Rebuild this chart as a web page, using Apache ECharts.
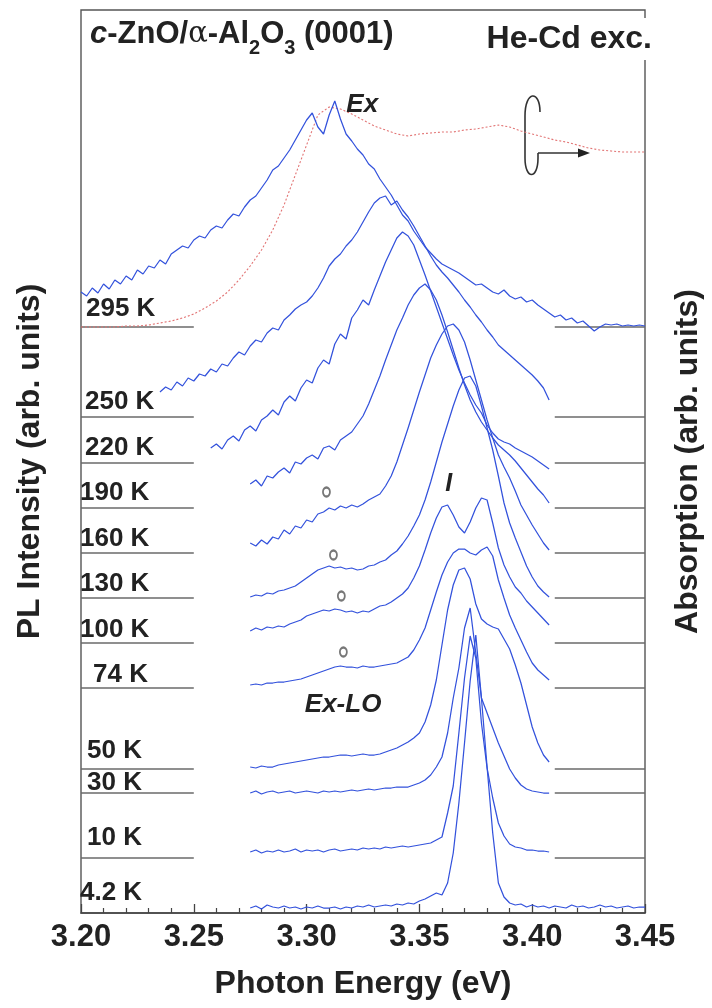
<!DOCTYPE html>
<html><head><meta charset="utf-8">
<script src="https://cdn.jsdelivr.net/npm/echarts@6/dist/echarts.min.js"></script>
<style>html,body{margin:0;padding:0;background:#fff}#c{width:712px;height:1008px}</style>
</head><body><div id="c"></div>
<script>
// ---------- data ----------
const STEP = 0.0025; // eV between read points
const tempLabels = ['295 K','250 K','220 K','190 K','160 K','130 K','100 K','74 K','50 K','30 K','10 K','4.2 K'];
// vertical offsets of each spectrum (arb. units, same scale as intensities)
const offsets = [586, 496, 450, 405, 360, 315, 270, 225, 144, 120, 55, 0];
const startEnergy = [3.200, 3.235, 3.2575, 3.275, 3.275, 3.275, 3.275, 3.275, 3.275, 3.275, 3.275, 3.275];

const pl295 = [35,31,39,34,43,38,47,43,51,47,57,53,61,59,67,63,73,77,81,79,87,91,89,97,101,99,107,113,111,120,127,131,139,147,157,161,169,177,187,197,207,214,200,193,212,226,208,193,186,178,172,163,158,148,140,132,122,112,106,96,88,80,74,68,63,60,57,54,50,46,42,43,39,35,33,37,31,28,30,25,27,22,18,14,10,12,7,9,4,6,1,-4,0,3,2,3,1,2,1,2,1];
const pl250 = [25,30,27,35,31,39,36,43,41,48,45,53,51,59,65,62,71,77,75,84,89,87,97,102,108,112,115,121,129,139,151,158,163,171,177,185,195,205,214,219,221,212,216,207,200,191,181,171,161,152,145,139,132,125,117,110,102,95,87,80,72,67,62,57,52,47,42,36,29,17];
const pl220 = [15,19,14,23,27,22,33,37,32,43,47,53,48,61,67,62,75,83,80,95,103,99,119,129,124,145,153,163,158,173,187,201,213,225,231,227,218,203,188,172,156,140,124,108,93,80,68,58,50,38,30,24,21,19,15,12,9,6,2,-2,-6];
const pl190 = [24,28,22,32,30,36,40,35,46,44,50,53,49,60,62,58,68,72,76,84,92,104,118,132,148,163,178,190,203,213,220,224,218,208,193,176,158,140,123,108,96,86,78,70,63,58,53,47,40,33,26,19,13,5];
const pl160 = [10,7,13,9,16,14,23,19,27,25,33,31,39,41,45,43,47,45,48,46,49,53,56,59,67,77,91,108,125,143,161,178,195,208,219,227,229,223,211,193,173,153,133,115,98,86,75,62,48,38,28,19,10,3];
const pl130 = [1,3,2,5,4,7,8,10,12,16,20,24,28,30,32,30,31,29,30,28,29,32,33,36,38,43,47,54,62,72,83,98,116,136,156,174,192,208,220,222,212,192,170,148,122,95,75,60,46,32,21,12,6,1];
const pl100 = [12,15,13,16,15,17,16,19,21,23,27,29,31,33,32,34,33,31,32,30,32,31,34,37,38,41,45,49,55,65,77,93,110,125,136,138,128,116,110,121,135,145,143,120,95,78,66,56,50,42,36,30,24,18];
const pl74 = [3,4,3,5,5,6,6,7,8,9,11,13,15,17,19,21,22,21,21,20,22,21,21,22,23,24,25,28,31,38,48,60,78,96,113,126,135,139,139,135,133,138,141,132,108,90,73,60,48,36,25,18,13,8];
const pl50 = [2,1,3,2,2,4,5,6,7,8,9,10,11,12,12,13,14,14,13,14,15,14,14,15,17,19,21,24,27,31,36,47,64,89,124,159,184,199,201,190,165,150,145,142,140,130,120,104,86,64,42,26,14,7];
const pl30 = [0,2,-1,1,2,0,1,2,0,1,2,1,0,2,1,2,1,2,3,2,3,4,3,4,5,5,6,6,6,8,10,13,18,26,36,60,95,125,165,185,140,95,80,65,50,37,24,15,8,4,2,1,0,0];
const pl10 = [6,8,5,7,6,8,6,7,9,6,8,7,8,6,8,9,7,8,9,8,10,9,10,9,11,10,11,12,11,12,13,14,15,18,21,45,72,125,180,222,200,135,90,60,35,22,14,11,10,8,8,7,7,6];
const pl4 = [5,7,4,8,6,5,7,5,6,4,6,5,7,5,5,6,4,6,5,7,6,8,6,7,8,7,9,8,10,9,12,14,17,20,18,30,60,110,170,232,278,215,146,80,30,16,10,8,9,6,8,6,7,5,7,6,5,8,6,7,5,6,8,6,7,5,6,7,5,6,6];
const spectra = [pl295, pl250, pl220, pl190, pl160, pl130, pl100, pl74, pl50, pl30, pl10, pl4];

// absorption (295 K), relative to the 295 K baseline, every 0.005 eV from 3.200
const ABS_START = 3.200, ABS_STEP = 0.005;
const absorption = [0,0,0,0,1,1,2,4,6,9,13,19,26,35,47,61,77,97,122,152,182,212,220,218,213,207,201,197,193,191,193,194,195,195,197,198,200,202,200,196,193,190,187,185,182,179,177,176,175,175,175];

// Ex-LO markers (energy, display value)
const exloMarks = [[3.3088, 421], [3.3119, 358], [3.3154, 317], [3.3163, 261]];

// ---------- chart ----------
const FONT = 'Liberation Sans';
const BLUE = '#3352dc';
const GRAYLINE = '#6a6a6a';
const chart = echarts.init(document.getElementById('c'), null, {renderer: 'canvas'});

const series = [];
offsets.forEach((off, i) => {
  if (i === offsets.length - 1) return;
  series.push({type: 'line', data: [[3.20, off], [3.25, off]], symbol: 'none', silent: true,
    lineStyle: {color: GRAYLINE, width: 1.6}, z: 1, animation: false});
  series.push({type: 'line', data: [[3.41, off], [3.45, off]], symbol: 'none', silent: true,
    lineStyle: {color: GRAYLINE, width: 1.6}, z: 1, animation: false});
});
series.push({type: 'line', yAxisIndex: 1, symbol: 'none', silent: true, animation: false, z: 2,
  data: absorption.map((v, k) => [ABS_START + k * ABS_STEP, offsets[0] + v]),
  lineStyle: {color: '#e27474', width: 1.1, type: [2, 2]}});
spectra.forEach((vals, i) => {
  series.push({type: 'line', symbol: 'none', silent: true, animation: false, z: 3,
    data: vals.map((v, k) => [startEnergy[i] + k * STEP, offsets[i] + v]),
    lineStyle: {color: BLUE, width: 1.25}});
});
series.push({type: 'scatter', data: exloMarks, symbol: 'emptyCircle', symbolSize: [7, 9], silent: true,
  animation: false, z: 4, itemStyle: {color: '#555', borderWidth: 1.2}});

chart.setOption({
  animation: false,
  grid: {left: 81, right: 59, top: 10, bottom: 95, show: true, borderColor: '#555', borderWidth: 1.4, backgroundColor: 'transparent'},
  title: [
    {text: '{i|c}{b|-ZnO/}{g|α}{b|-Al}{s|2}{b|O}{s|3}{b| (0001)}', left: 90, top: 10, padding: 0,
      textStyle: {rich: {
        i: {fontFamily: FONT, fontWeight: 'bold', fontStyle: 'italic', fontSize: 31, color: '#222', lineHeight: 48},
        b: {fontFamily: FONT, fontWeight: 'bold', fontSize: 31, color: '#222', lineHeight: 48},
        g: {fontFamily: 'DejaVu Serif', fontWeight: 'normal', fontSize: 29, color: '#222', lineHeight: 48},
        s: {fontFamily: FONT, fontWeight: 'bold', fontSize: 20, color: '#222', lineHeight: 20, verticalAlign: 'bottom'}
      }}},
    {text: 'He-Cd exc.', right: 56, top: 18, padding: [3, 4, 3, 6], backgroundColor: '#fff',
      textStyle: {fontFamily: FONT, fontWeight: 'bold', fontSize: 32, color: '#222', lineHeight: 36}}
  ],
  xAxis: {type: 'value', min: 3.20, max: 3.45, interval: 0.05,
    axisLine: {lineStyle: {color: '#444', width: 1.5}},
    axisTick: {inside: true, length: 9, lineStyle: {color: '#444', width: 1.3}},
    minorTick: {show: true, splitNumber: 5, length: 5, lineStyle: {color: '#444', width: 1.2}},
    splitLine: {show: false},
    axisLabel: {formatter: v => v.toFixed(2), fontFamily: FONT, fontWeight: 'bold', fontSize: 31, color: '#222', margin: 9},
    name: 'Photon Energy (eV)', nameLocation: 'middle', nameGap: 55,
    nameTextStyle: {fontFamily: FONT, fontWeight: 'bold', fontSize: 32, color: '#222'}},
  yAxis: [
    {type: 'value', min: 0, max: 903, position: 'left', axisLine: {show: false}, axisTick: {show: false},
      axisLabel: {show: false}, splitLine: {show: false},
      name: 'PL Intensity (arb. units)', nameLocation: 'middle', nameGap: 35,
      nameTextStyle: {fontFamily: FONT, fontWeight: 'bold', fontSize: 32, color: '#222'}},
    {type: 'value', min: 0, max: 903, position: 'right', axisLine: {show: false}, axisTick: {show: false},
      axisLabel: {show: false}, splitLine: {show: false},
      name: 'Absorption (arb. units)', nameLocation: 'middle', nameGap: 27,
      nameTextStyle: {fontFamily: FONT, fontWeight: 'bold', fontSize: 32, color: '#222'}}
  ],
  series: series
});

const labelX = [86, 85, 85, 80, 80, 80, 80, 93, 87, 87, 87, 80];
const labelLift = [9, 6, 6, 6, 5, 5, 4, 4, 9, 1, 11, 11];
const toPx = p => chart.convertToPixel({gridIndex: 0}, p);
const graphics = [];
tempLabels.forEach((t, i) => {
  const p = toPx([3.20, offsets[i]]);
  graphics.push({type: 'text', silent: true, z: 10, style: {text: t, x: labelX[i], y: p[1] - labelLift[i] - 9,
    font: 'bold 26px "Liberation Sans"', fill: '#222', textAlign: 'left', textVerticalAlign: 'middle'}});
});
const ann = [
  {t: 'Ex', e: 3.3176, v: 808, size: 26},
  {t: 'I', e: 3.3615, v: 429, size: 25},
  {t: 'Ex-LO', e: 3.2992, v: 208, size: 26}
];
ann.forEach(a => {
  const p = toPx([a.e, a.v]);
  graphics.push({type: 'text', silent: true, z: 10, style: {text: a.t, x: p[0], y: p[1],
    font: 'italic bold ' + a.size + 'px "Liberation Sans"', fill: '#222', textAlign: 'left', textVerticalAlign: 'middle'}});
});
const LS = {stroke: '#333', lineWidth: 1.6, fill: null};
graphics.push({type: 'bezierCurve', silent: true, shape: {x1: 540, y1: 112, cpx1: 540, cpy1: 90, cpx2: 525, cpy2: 90, x2: 525, y2: 116}, style: LS});
graphics.push({type: 'line', silent: true, shape: {x1: 525, y1: 116, x2: 525, y2: 158}, style: LS});
graphics.push({type: 'bezierCurve', silent: true, shape: {x1: 525, y1: 158, cpx1: 525, cpy1: 180, cpx2: 538, cpy2: 180, x2: 538, y2: 158}, style: LS});
graphics.push({type: 'line', silent: true, shape: {x1: 538, y1: 158, x2: 538, y2: 153}, style: LS});
graphics.push({type: 'line', silent: true, shape: {x1: 538, y1: 153, x2: 581, y2: 153}, style: LS});
graphics.push({type: 'polygon', silent: true, shape: {points: [[578, 148.5], [590, 153], [578, 157.5]]}, style: {fill: '#222'}});
chart.setOption({graphic: graphics});
</script>
</body></html>
